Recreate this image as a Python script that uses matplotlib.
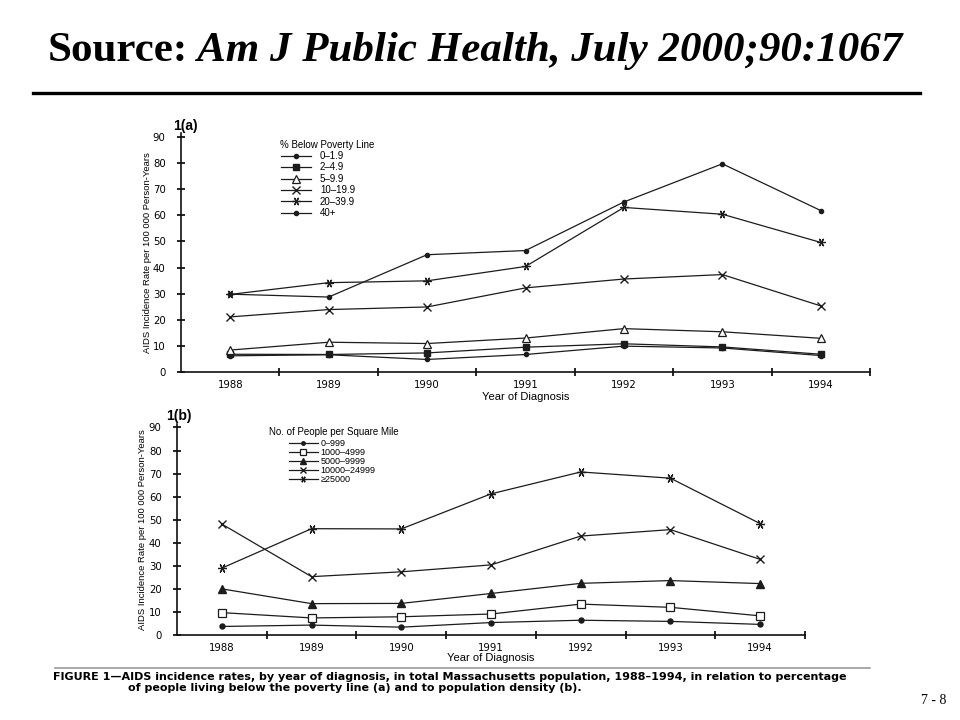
import matplotlib
matplotlib.use("Agg")
import matplotlib.pyplot as plt
from matplotlib.lines import Line2D
from matplotlib import font_manager
import numpy as np

# ---------------- data ----------------
years = [1988, 1989, 1990, 1991, 1992, 1993, 1994]
y_ticks = [0, 10, 20, 30, 40, 50, 60, 70, 80, 90]

poverty_title = "% Below Poverty Line"
poverty_labels = ["0–1.9", "2–4.9", "5–9.9", "10–19.9", "20–39.9", "40+"]
pov_0_1_9 = [6.2, 6.6, 4.8, 6.7, 9.9, 9.2, 6.3]
pov_2_4_9 = [6.8, 6.7, 7.3, 9.5, 10.8, 9.6, 6.8]
pov_5_9_9 = [8.4, 11.4, 10.9, 13.0, 16.6, 15.4, 12.9]
pov_10_19_9 = [21.1, 23.9, 24.9, 32.2, 35.6, 37.3, 25.3]
pov_20_39_9 = [29.7, 34.2, 34.9, 40.4, 63.0, 60.4, 49.6]
pov_40_plus = [29.8, 28.7, 44.9, 46.5, 65.1, 79.7, 61.8]

density_title = "No. of People per Square Mile"
density_labels = ["0–999", "1000–4999", "5000–9999", "10000–24999", "≥25000"]
den_0_999 = [3.7, 4.3, 3.4, 5.4, 6.4, 5.9, 4.6]
den_1000_4999 = [9.7, 7.4, 7.9, 9.1, 13.4, 12.0, 8.3]
den_5000_9999 = [20.0, 13.6, 13.7, 18.0, 22.4, 23.6, 22.3]
den_10000_24999 = [48.1, 25.3, 27.4, 30.4, 42.9, 45.7, 32.8]
den_25000_plus = [29.0, 46.1, 46.0, 61.2, 70.7, 68.0, 48.3]

title_plain = "Source:"
title_italic = " Am J Public Health, July 2000;90:1067"
ylabel_text = "AIDS Incidence Rate per 100 000 Person-Years"
xlabel_text = "Year of Diagnosis"
caption_1 = ("FIGURE 1—AIDS incidence rates, by year of diagnosis, in total Massachusetts "
             "population, 1988–1994, in relation to percentage")
caption_2 = "of people living below the poverty line (a) and to population density (b)."
page_no = "7 - 8"

# ---------------- fonts ----------------
available = {f.name for f in font_manager.fontManager.ttflist}
SANS = "Liberation Sans" if "Liberation Sans" in available else "DejaVu Sans"
NARROW = "Liberation Sans Narrow" if "Liberation Sans Narrow" in available else SANS
SERIF = "Liberation Serif" if "Liberation Serif" in available else "DejaVu Serif"
WIDE = "DejaVu Sans"
plt.rcParams["font.family"] = [SANS, "DejaVu Sans"]

W, H = 960, 720
fig = plt.figure(figsize=(W / 100, H / 100), dpi=100)
fig.patch.set_facecolor("white")


def fx(px):
    return px / W


def fy(py):
    return 1 - py / H


LC = "#1c1c1c"

pov_series = [pov_0_1_9, pov_2_4_9, pov_5_9_9, pov_10_19_9, pov_20_39_9, pov_40_plus]
pov_styles = [
    dict(marker="o", ms=3.0, mfc=LC, mec=LC),
    dict(marker="s", ms=3.8, mfc=LC, mec=LC),
    dict(marker="^", ms=5.5, mfc="white", mec=LC, mew=0.9),
    dict(marker="x", ms=5.5, mec=LC, mew=1.0),
    dict(marker=(6, 2, 90), ms=6.0, mec=LC, mew=0.9),
    dict(marker="o", ms=3.0, mfc=LC, mec=LC),
]

den_series = [den_0_999, den_1000_4999, den_5000_9999, den_10000_24999, den_25000_plus]
den_styles = [
    dict(marker="o", ms=3.6, mfc=LC, mec=LC),
    dict(marker="s", ms=5.5, mfc="white", mec=LC, mew=0.9),
    dict(marker="^", ms=5.5, mfc=LC, mec=LC),
    dict(marker="x", ms=5.5, mec=LC, mew=1.0),
    dict(marker=(6, 2, 90), ms=6.5, mec=LC, mew=0.9),
]


def setup(ax):
    ax.set_xlim(1987.5, 1994.5)
    ax.set_ylim(0, 91.5)
    ax.set_facecolor("none")
    for s in ["top", "right"]:
        ax.spines[s].set_visible(False)
    for s in ["left", "bottom"]:
        ax.spines[s].set_linewidth(1.2)
        ax.spines[s].set_color("#111111")
    ax.set_xticks(years)
    ax.set_xticks(np.arange(years[0] + 0.5, years[-1] + 1, 1), minor=True)
    ax.tick_params(axis="x", which="major", length=0, pad=6, labelsize=7.3)
    ax.tick_params(axis="x", which="minor", length=6, direction="inout", width=1.2)
    ax.set_yticks(y_ticks)
    ax.tick_params(axis="y", which="major", length=6, direction="inout", width=1.2,
                   pad=8, labelsize=7.3)
    for lab in ax.get_xticklabels() + ax.get_yticklabels():
        lab.set_family(WIDE)


# ---------------- panel (a) ----------------
axa = fig.add_axes([fx(181), fy(372), fx(870) - fx(181), fy(133) - fy(372)])
setup(axa)
for vals, lab, st in zip(pov_series, poverty_labels, pov_styles):
    axa.plot(years, vals, color=LC, lw=0.9, label=lab, **st)
axa.set_ylabel(ylabel_text, family=NARROW, fontsize=6.8)
axa.yaxis.set_label_coords(-0.042, 0.5)
axa.set_xlabel(xlabel_text, fontsize=8)
axa.xaxis.set_label_coords(0.5, -0.085)
leg_a = axa.legend(loc="upper left", bbox_to_anchor=(fx(281), fy(151)),
                   bbox_transform=fig.transFigure, frameon=False, fontsize=7,
                   handlelength=3.1, handletextpad=0.9, labelspacing=0.15,
                   borderpad=0, borderaxespad=0)
fig.text(fx(280), fy(145), poverty_title, fontsize=7, va="center", ha="left")
fig.text(fx(185), fy(126), "1(a)", fontsize=10, weight="bold", va="center", ha="center")

# ---------------- panel (b) ----------------
axb = fig.add_axes([fx(177), fy(635), fx(805) - fx(177), fy(424) - fy(635)])
setup(axb)
for vals, lab, st in zip(den_series, density_labels, den_styles):
    axb.plot(years, vals, color=LC, lw=0.9, label=lab, **st)
axb.set_ylabel(ylabel_text, family=NARROW, fontsize=6.8)
axb.yaxis.set_label_coords(-0.048, 0.5)
axb.set_xlabel(xlabel_text, fontsize=8)
axb.xaxis.set_label_coords(0.5, -0.085)
leg_b = axb.legend(loc="upper left", bbox_to_anchor=(fx(289), fy(439)),
                   bbox_transform=fig.transFigure, frameon=False, fontsize=6.5,
                   handlelength=3.2, handletextpad=0.3, labelspacing=0.0,
                   borderpad=0, borderaxespad=0, markerscale=0.7)
fig.text(fx(269), fy(432), density_title, fontsize=7, va="center", ha="left")
fig.text(fx(179), fy(416), "1(b)", fontsize=10, weight="bold", va="center", ha="center")

# ---------------- slide decorations ----------------
fig.add_artist(Line2D([fx(33), fx(920)], [fy(93), fy(93)], color="black", lw=2.4,
                      transform=fig.transFigure))
fig.add_artist(Line2D([fx(55), fx(870)], [fy(668), fy(668)], color="#9a9a9a", lw=1.2,
                      transform=fig.transFigure))

t1 = fig.text(fx(48), fy(61), title_plain, family=SERIF, weight="bold", fontsize=31,
              va="baseline", ha="left")
fig.canvas.draw()
bb = t1.get_window_extent(renderer=fig.canvas.get_renderer())
fig.text(bb.x1 / W, fy(61), title_italic, family=SERIF, weight="bold", style="italic",
         fontsize=31, va="baseline", ha="left")

fig.text(fx(53), fy(677.5), caption_1, family=WIDE, fontsize=8.0, weight="bold",
         va="center", ha="left")
fig.text(fx(128), fy(688), caption_2, family=WIDE, fontsize=8.0, weight="bold",
         va="center", ha="left")
fig.text(fx(946), fy(701), page_no, family=SERIF, fontsize=10, va="center", ha="right")

fig.savefig("out.png", dpi=100, facecolor="white")
